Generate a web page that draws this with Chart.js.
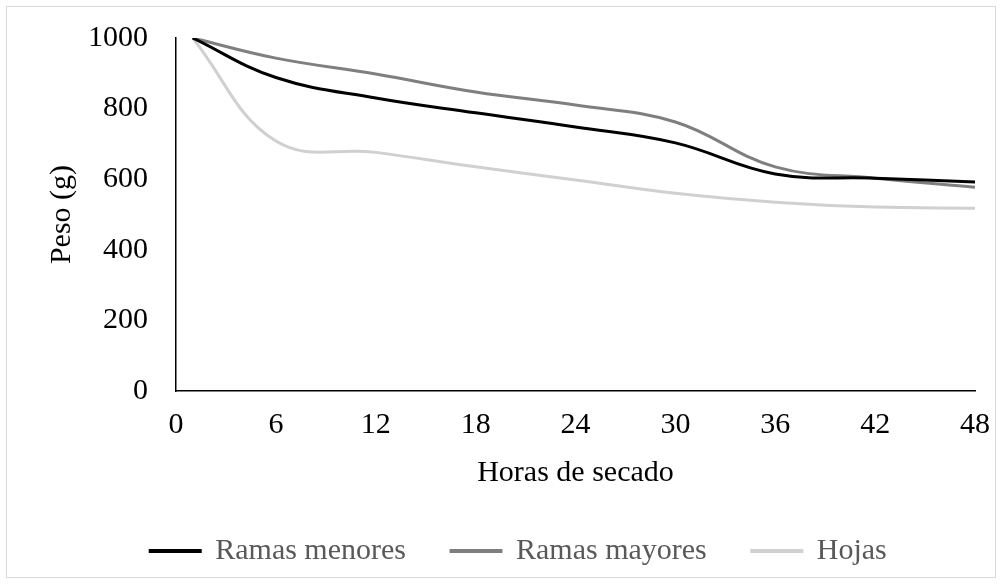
<!DOCTYPE html>
<html>
<head>
<meta charset="utf-8">
<script src="https://cdn.jsdelivr.net/npm/chart.js@4/dist/chart.umd.min.js"></script>
<style>
  html, body { margin: 0; padding: 0; background: #fff; }
  #wrap { position: relative; width: 1004px; height: 586px; }
  #frame { position: absolute; left: 6px; top: 6px; width: 990px; height: 572px; border: 1px solid #d9d9d9; box-sizing: border-box; pointer-events: none; }
  canvas { position: absolute; left: 0; top: 0; }
</style>
</head>
<body>
<div id="wrap">
  <canvas id="c" width="1004" height="586"></canvas>
  <div id="frame"></div>
</div>
<script>
const hours = [1, 6, 12, 18, 24, 30, 36, 42, 48];
const ramasMenores = [1000, 888, 830, 788, 748, 703, 615, 603, 592];
const ramasMayores = [1000, 943, 898, 847, 810, 762, 635, 603, 577];
const hojas = [1000, 708, 676, 635, 598, 560, 535, 521, 518];
const seriesNames = ['Ramas menores', 'Ramas mayores', 'Hojas'];
const xTicks = [0, 6, 12, 18, 24, 30, 36, 42, 48];
const yTicks = [0, 200, 400, 600, 800, 1000];

const FONT = '"Liberation Serif", "Times New Roman", serif';
const toPts = vals => hours.map((h, i) => ({ x: h, y: vals[i] }));
const colors = ['#000000', '#7f7f7f', '#d0d0d0'];
const series = [ramasMenores, ramasMayores, hojas];

const legendShift = {
  id: 'legendShift',
  afterLayout(chart) {
    const lg = chart.legend;
    if (lg) { lg.left += 31; lg.right += 31; }
  }
};

const noPad = s => { s.paddingTop = 0; s.paddingBottom = 0; s.paddingLeft = 0; s.paddingRight = 0; };

new Chart(document.getElementById('c'), {
  type: 'line',
  data: {
    datasets: series.map((s, i) => ({
      label: seriesNames[i],
      data: toPts(s),
      borderColor: colors[i],
      backgroundColor: colors[i],
      borderWidth: 3,
      pointRadius: 0,
      tension: 0.4,
      fill: false
    }))
  },
  options: {
    responsive: false,
    animation: false,
    layout: { padding: { top: 38, right: 29, bottom: 10, left: 0 } },
    plugins: {
      legend: {
        position: 'bottom',
        labels: {
          boxWidth: 50,
          boxHeight: 1,
          padding: 45,
          color: '#595959',
          font: { family: FONT, size: 30 }
        }
      },
      tooltip: { enabled: false }
    },
    scales: {
      x: {
        type: 'linear',
        min: xTicks[0],
        max: xTicks[xTicks.length - 1],
        afterBuildTicks: s => { s.ticks = xTicks.map(v => ({ value: v })); },
        afterFit: s => { s.height = 100; noPad(s); },
        grid: { display: false, drawTicks: false },
        border: { display: true, color: '#000', width: 1.5 },
        ticks: { padding: 16, color: '#000', font: { family: FONT, size: 30 }, maxRotation: 0, autoSkip: false, callback: v => String(v) },
        title: { display: true, text: 'Horas de secado', color: '#000', font: { family: FONT, size: 30 }, padding: { top: 0, bottom: 0 } }
      },
      y: {
        min: yTicks[0],
        max: yTicks[yTicks.length - 1],
        afterBuildTicks: s => { s.ticks = yTicks.map(v => ({ value: v })); },
        afterFit: s => { s.width = 176; noPad(s); },
        grid: { display: false, drawTicks: false },
        border: { display: true, color: '#000', width: 1.5 },
        ticks: { padding: 28, color: '#000', font: { family: FONT, size: 30 }, callback: v => String(v) },
        title: { display: true, text: 'Peso (g)', color: '#000', font: { family: FONT, size: 30 }, padding: { top: 44, bottom: 0 } }
      }
    }
  },
  plugins: [legendShift]
});
</script>
</body>
</html>
